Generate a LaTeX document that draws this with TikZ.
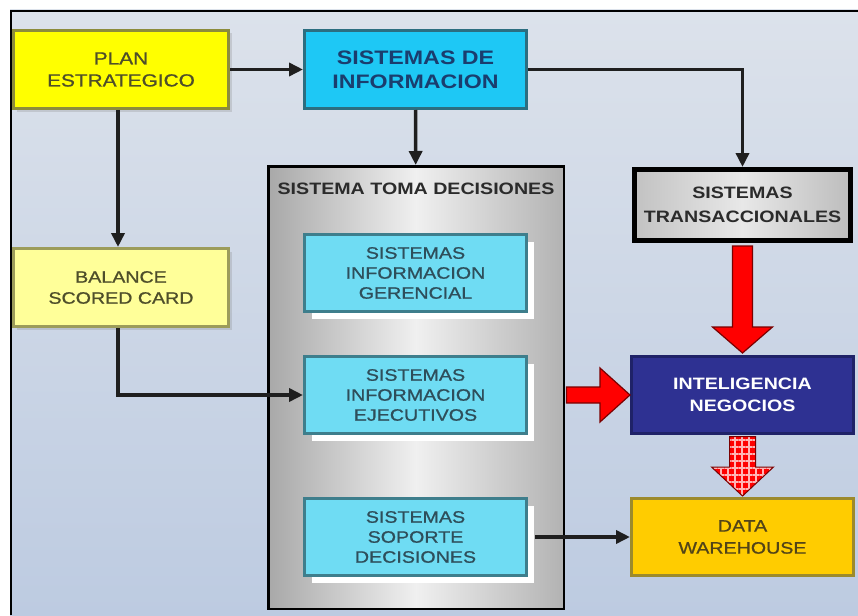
\documentclass[tikz,border=0pt]{standalone}
\usepackage{fontspec}
\setmainfont[FakeStretch=1.19]{Liberation Sans}
\newfontfamily\semibold[FakeStretch=1.19, FakeBold=0.9]{Liberation Sans}
\usetikzlibrary{arrows.meta,calc,shadows,patterns.meta}

\definecolor{bgtop}{HTML}{DCE2EB}
\definecolor{bgbot}{HTML}{BDCBE1}
\definecolor{planfill}{HTML}{FFFF00}
\definecolor{planedge}{HTML}{8C8C3C}
\definecolor{plantext}{HTML}{4E4E2A}
\definecolor{balfill}{HTML}{FFFF99}
\definecolor{baledge}{HTML}{9C9C5A}
\definecolor{sifill}{HTML}{1EC8F5}
\definecolor{siedge}{HTML}{2C6E80}
\definecolor{sitext}{HTML}{1A3D6E}
\definecolor{subfill}{HTML}{6FDCF3}
\definecolor{subedge}{HTML}{3E7E8C}
\definecolor{subtext}{HTML}{2E4E5A}
\definecolor{bifill}{HTML}{2E3192}
\definecolor{biedge}{HTML}{1F2268}
\definecolor{dwfill}{HTML}{FFCC00}
\definecolor{dwedge}{HTML}{9C8A2C}
\definecolor{dwtext}{HTML}{524418}
\definecolor{darktext}{HTML}{2B2B2B}
\definecolor{arrowred}{HTML}{FF0000}
\definecolor{arrowedge}{HTML}{7A0000}
\definecolor{gridpink}{HTML}{FFB4B4}

\begin{document}
\begin{tikzpicture}[x=1pt,y=-1pt,
  box/.style={rectangle, inner sep=0pt, align=center, line width=3pt,
    font=\fontsize{16.5}{21}\semibold},
  planbox/.style={box, fill=planfill, draw=planedge, text=plantext,
    minimum width=215, minimum height=78,
    font=\fontsize{17.5}{22}\semibold,
    drop shadow={shadow xshift=3pt, shadow yshift=-3pt, opacity=.25}},
  balbox/.style={box, fill=balfill, draw=baledge, text=plantext,
    minimum width=215, minimum height=78,
    drop shadow={shadow xshift=3pt, shadow yshift=-3pt, opacity=.25}},
  sibox/.style={box, fill=sifill, draw=siedge, text=sitext,
    minimum width=222, minimum height=78,
    font=\fontsize{19.5}{24}\selectfont\bfseries},
  tomabox/.style={rectangle, inner sep=0pt, line width=2.5pt, draw=black,
    left color=black!34, right color=black!30, middle color=black!6,
    minimum width=295.5, minimum height=442.5},
  subbox/.style={box, fill=subfill, draw=subedge, text=subtext,
    minimum width=222, minimum height=77,
    font=\fontsize{16.5}{20}\semibold,
    drop shadow={shadow xshift=7pt, shadow yshift=-7pt, fill=white, opacity=1}},
  transbox/.style={box, line width=5pt, draw=black, text=darktext,
    left color=black!24, right color=black!26, middle color=black!9,
    minimum width=216, minimum height=71,
    font=\fontsize{16.5}{24}\selectfont\bfseries},
  bibox/.style={box, fill=bifill, draw=biedge, text=white,
    minimum width=222, minimum height=77,
    font=\fontsize{16.5}{22}\selectfont\bfseries},
  dwbox/.style={box, fill=dwfill, draw=dwedge, text=dwtext,
    minimum width=222, minimum height=77,
    font=\fontsize{16.5}{22}\semibold},
  link/.style={line width=3.5pt, draw=black!88,
    -{Triangle[length=14pt,width=13pt]}},
  redarrow/.style={fill=arrowred, draw=arrowedge, line width=1.2pt, line join=miter},
]
\useasboundingbox (0,0) rectangle (858,615);

% backdrop and frame
\fill[white] (0,0) rectangle (858,615);
\shade[top color=bgtop, bottom color=bgbot] (10,10) rectangle (858,615);

% boxes
\node[planbox] (plan) at (121,69.5) {PLAN\\ESTRATEGICO};
\node[sibox] (si) at (415.5,69.5) {SISTEMAS DE\\INFORMACION};
\node[balbox] (bal) at (121,287.5) {BALANCE\\SCORED CARD};

\node[tomabox] (toma) at (416,387.5) {};
\node[anchor=base, text=darktext, font=\fontsize{16.5}{20}\selectfont\bfseries]
  (tomatitle) at (416,194) {SISTEMA TOMA DECISIONES};
\node[subbox] (sig) at (415.5,273) {SISTEMAS\\INFORMACION\\GERENCIAL};
\node[subbox] (sie) at (415.5,395) {SISTEMAS\\INFORMACION\\EJECUTIVOS};
\node[subbox] (ssd) at (415.5,537) {SISTEMAS\\SOPORTE\\DECISIONES};

\node[transbox] (trans) at (742.5,205) {SISTEMAS\\TRANSACCIONALES};
\node[bibox] (bi) at (742.5,395) {INTELIGENCIA\\NEGOCIOS};
\node[dwbox] (dw) at (742.5,537) {DATA\\WAREHOUSE};

% frame edges
\draw[line width=2.5pt] (11,615) -- (11,11) -- (858,11);

% thin connectors
\draw[link] (plan) -- (si);
\draw[link] ([xshift=-3pt]plan.south) -- ([xshift=-3pt]bal.north);
\draw[link] (si) -- (toma);
\draw[link] (si.east) -| (trans.north);
\draw[link] ([xshift=-3pt]bal.south) |- (sie.west);
\draw[link, shorten <=7pt] (ssd.east) -- (dw.west);

% block arrow: transactional systems into business intelligence
\draw[redarrow] let \p1=($(trans.south)+(0,3)$), \p2=($(bi.north)+(0,-2)$) in
  (\x1-10pt,\y1) -- (\x1-10pt,\y2+26pt) -- (\x1-30pt,\y2+26pt) -- (\x1,\y2)
  -- (\x1+30pt,\y2+26pt) -- (\x1+10pt,\y2+26pt) -- (\x1+10pt,\y1) -- cycle;

% block arrow: decision systems into business intelligence
\draw[redarrow] let \p1=($(toma.east |- bi.west)+(1.5,0)$), \p2=($(bi.west)+(0,0)$) in
  (\x1,\y1+8pt) -- (\x2-30pt,\y1+8pt) -- (\x2-30pt,\y1+27pt) -- (\x2,\y1)
  -- (\x2-30pt,\y1-27pt) -- (\x2-30pt,\y1-8pt) -- (\x1,\y1-8pt) -- cycle;

% checkered block arrow: business intelligence down to the warehouse
\fill[white, shift={(5,2)}] let \p1=($(bi.south)+(0,3)$), \p2=($(dw.north)+(0,-1)$) in
  (\x1-13pt,\y1) -- (\x1-13pt,\y2+29pt) -- (\x1-31pt,\y2+29pt) -- (\x1,\y2)
  -- (\x1+31pt,\y2+29pt) -- (\x1+13pt,\y2+29pt) -- (\x1+13pt,\y1) -- cycle;
\draw[draw=arrowedge, line width=1pt, line join=miter,
      preaction={fill=arrowred},
      pattern={Hatch[angle=0, distance=7pt, line width=1.1pt]}, pattern color=gridpink]
  let \p1=($(bi.south)+(0,1.5)$), \p2=($(dw.north)+(0,-1)$) in
  (\x1-13pt,\y1) -- (\x1-13pt,\y2+29pt) -- (\x1-31pt,\y2+29pt) -- (\x1,\y2)
  -- (\x1+31pt,\y2+29pt) -- (\x1+13pt,\y2+29pt) -- (\x1+13pt,\y1) -- cycle;
\end{tikzpicture}
\end{document}
